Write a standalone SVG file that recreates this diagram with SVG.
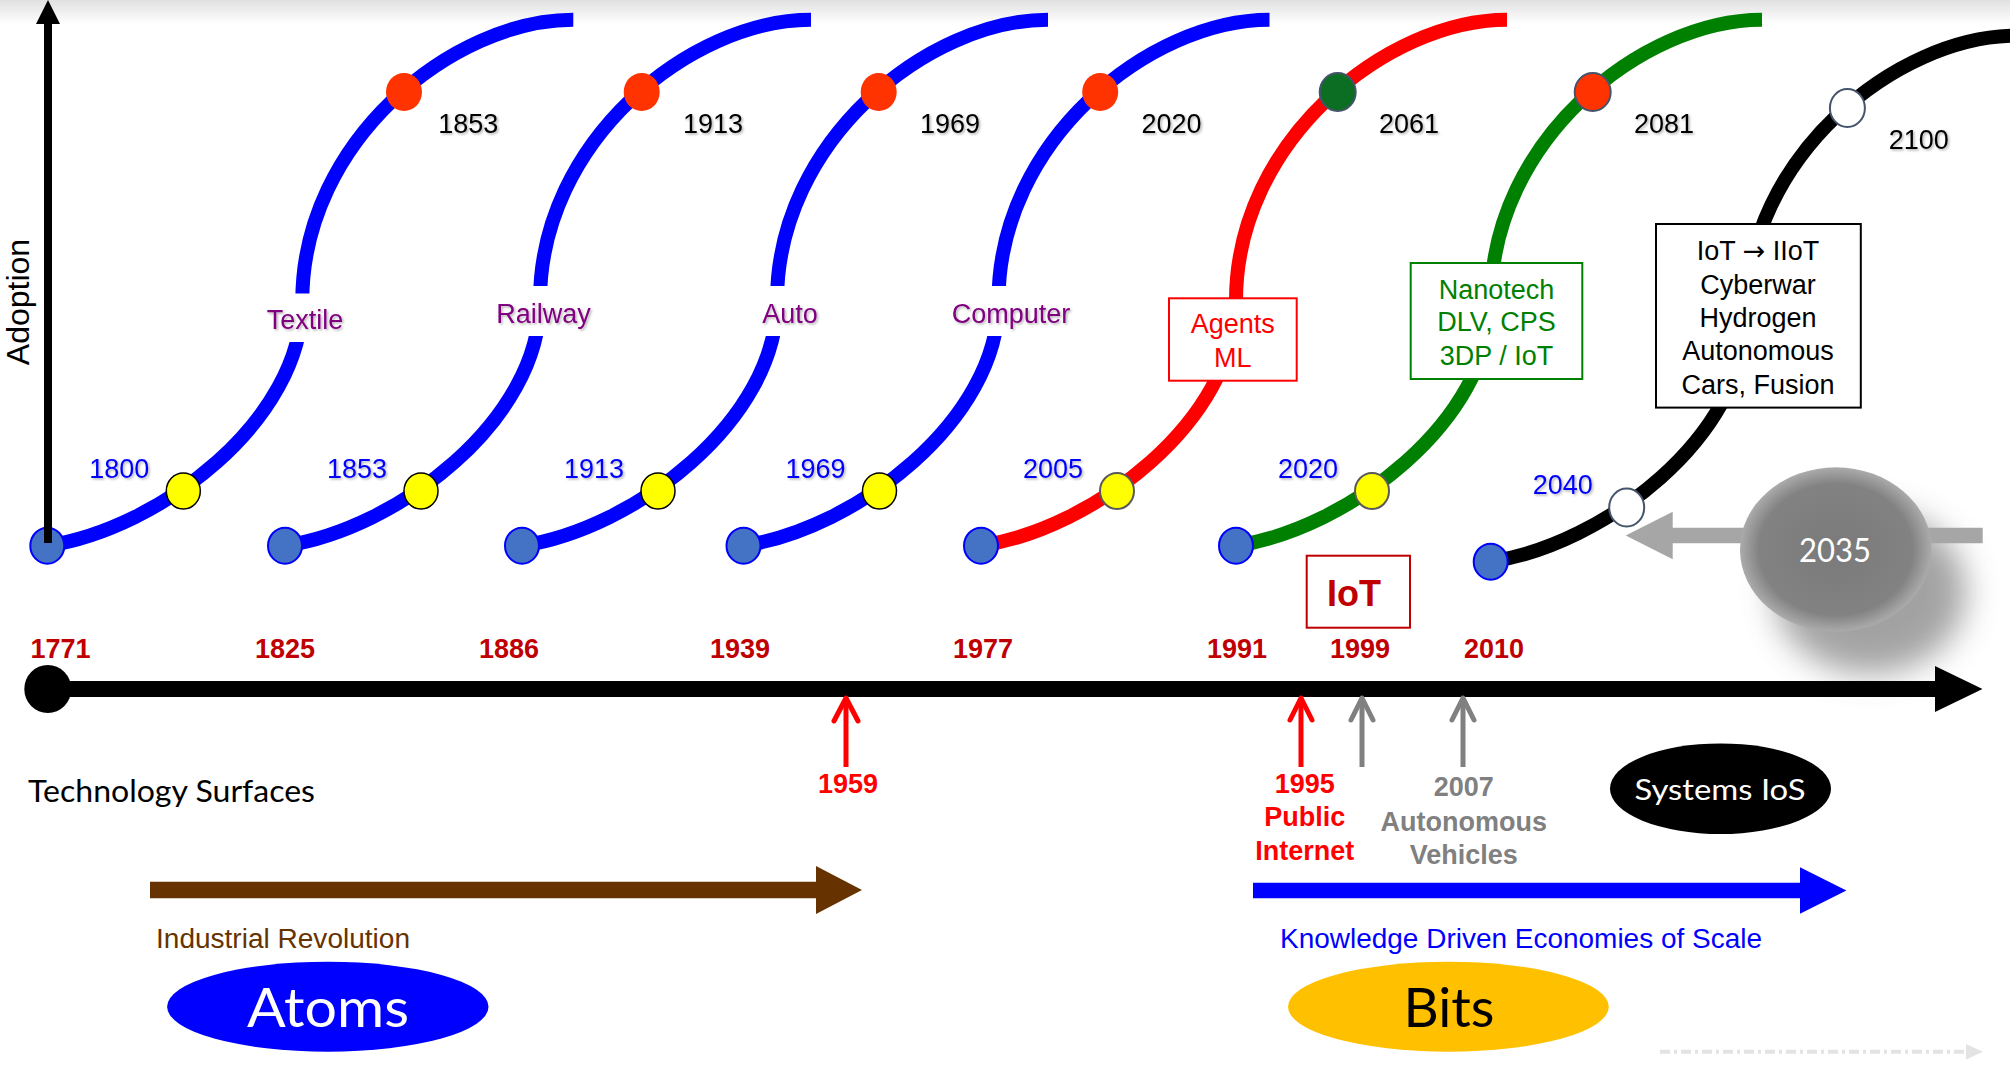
<svg xmlns="http://www.w3.org/2000/svg" width="2010" height="1067" viewBox="0 0 2010 1067">
<defs>
<style>
.a{font-family:"Liberation Sans",Arial,"DejaVu Sans",sans-serif;font-size:27px;text-anchor:middle}
.c{font-family:Lato,"Open Sans",sans-serif;text-anchor:middle}
.sh{filter:url(#ts)}
.blue{fill:#0000FF}
.blk{fill:#000}
.tech{fill:#800080}
.tl{font-weight:bold;fill:#C00000}
.db{fill:#4472C4;stroke:#0000FF;stroke-width:2}
.dy{fill:#FFFF00;stroke:#000;stroke-width:1.5}
.dyg{fill:#FFFF00;stroke:#595959;stroke-width:2}
.dr{fill:#FF3300}
.dw{fill:#fff;stroke:#44546A;stroke-width:2}
.gap{fill:#fff}
.box{fill:#fff;stroke-width:2}
.ar{fill:none;stroke-width:5;stroke-linecap:round;stroke-linejoin:round}
</style>
<linearGradient id="topShade" x1="0" y1="0" x2="0" y2="1"><stop offset="0" stop-color="#e0e0e0"/><stop offset="1" stop-color="#ffffff"/></linearGradient>
<path id="scurve" d="M0,0 C113,-17 255,-125 255,-245 C255,-405 406,-526 526,-526" fill="none" stroke-width="14"/>
<filter id="ts" x="-10%" y="-20%" width="130%" height="150%"><feDropShadow dx="1.5" dy="1.5" stdDeviation="1" flood-color="#000" flood-opacity="0.3"/></filter>
<radialGradient id="g2035" cx="0.5" cy="0.5" r="0.5"><stop offset="0" stop-color="#7a7a7a"/><stop offset="0.8" stop-color="#828282"/><stop offset="1" stop-color="#ababab"/></radialGradient>
<filter id="blur" x="-50%" y="-50%" width="200%" height="200%"><feGaussianBlur stdDeviation="16"/></filter>
</defs>
<rect x="0" y="0" width="2010" height="1067" fill="#fff"/>
<rect x="0" y="0" width="2010" height="24" fill="url(#topShade)"/>

<g id="wave-textile">
<use href="#scurve" transform="translate(47.3,545.7)" stroke="#0000FF"/>
<rect class="gap" x="262" y="293.5" width="88" height="48.5"/>
<text class="a tech sh" x="305" y="329">Textile</text>
<ellipse class="db" cx="47.3" cy="545.7" rx="17" ry="18"/>
<ellipse class="dy" cx="183.3" cy="491" rx="17" ry="18"/>
<ellipse class="dr" cx="404" cy="92" rx="18" ry="19"/>
<text class="a blue sh" x="119.3" y="478.3">1800</text>
<text class="a blk sh" x="468.3" y="133.3">1853</text>
</g>

<g id="wave-railway">
<use href="#scurve" transform="translate(285,545.7)" stroke="#0000FF"/>
<rect class="gap" x="494" y="286" width="99" height="50"/>
<text class="a tech sh" x="543.5" y="323">Railway</text>
<ellipse class="db" cx="285" cy="545.7" rx="17" ry="18"/>
<ellipse class="dy" cx="421" cy="491" rx="17" ry="18"/>
<ellipse class="dr" cx="641.7" cy="92" rx="18" ry="19"/>
<text class="a blue sh" x="357" y="478.3">1853</text>
<text class="a blk sh" x="713" y="133.3">1913</text>
</g>

<g id="wave-auto">
<use href="#scurve" transform="translate(522,545.7)" stroke="#0000FF"/>
<rect class="gap" x="755" y="286" width="67" height="50"/>
<text class="a tech sh" x="790" y="323">Auto</text>
<ellipse class="db" cx="522" cy="545.7" rx="17" ry="18"/>
<ellipse class="dy" cx="658" cy="491" rx="17" ry="18"/>
<ellipse class="dr" cx="878.7" cy="92" rx="18" ry="19"/>
<text class="a blue sh" x="594" y="478.3">1913</text>
<text class="a blk sh" x="950" y="133.3">1969</text>
</g>

<g id="wave-computer">
<use href="#scurve" transform="translate(743.5,545.7)" stroke="#0000FF"/>
<rect class="gap" x="950" y="286" width="122" height="50"/>
<text class="a tech sh" x="1011" y="323">Computer</text>
<ellipse class="db" cx="743.5" cy="545.7" rx="17" ry="18"/>
<ellipse class="dy" cx="879.5" cy="491" rx="17" ry="18"/>
<ellipse class="dr" cx="1100.2" cy="92" rx="18" ry="19"/>
<text class="a blue sh" x="815.5" y="478.3">1969</text>
<text class="a blk sh" x="1171.5" y="133.3">2020</text>
</g>

<g id="wave-agents">
<use href="#scurve" transform="translate(981,545.7)" stroke="#FF0000"/>
<rect class="box" x="1169" y="298.3" width="127.7" height="82.4" stroke="#FF0000"/>
<text class="a" x="1232.7" y="333.3" fill="#FF0000">Agents</text>
<text class="a" x="1232.7" y="366.7" fill="#FF0000">ML</text>
<ellipse class="db" cx="981" cy="545.7" rx="17" ry="18"/>
<ellipse class="dyg" cx="1117" cy="491" rx="17" ry="18"/>
<ellipse cx="1337.7" cy="92" rx="18" ry="19" fill="#0B6E23" stroke="#44546A" stroke-width="2"/>
<text class="a blue sh" x="1053" y="478.3">2005</text>
<text class="a blk sh" x="1409" y="133.3">2061</text>
</g>

<g id="wave-nanotech">
<use href="#scurve" transform="translate(1236,545.7)" stroke="#008000"/>
<rect class="box" x="1410.7" y="263" width="171.6" height="116" stroke="#008000"/>
<text class="a" x="1496.5" y="298.8" fill="#008000">Nanotech</text>
<text class="a" x="1496.5" y="331.3" fill="#008000">DLV, CPS</text>
<text class="a" x="1496.5" y="364.5" fill="#008000">3DP / IoT</text>
<ellipse class="db" cx="1236" cy="545.7" rx="17" ry="18"/>
<ellipse class="dyg" cx="1372" cy="491" rx="17" ry="18"/>
<ellipse cx="1592.7" cy="92" rx="18" ry="19" fill="#FF3300" stroke="#44546A" stroke-width="2"/>
<text class="a blue sh" x="1308" y="478.3">2020</text>
<text class="a blk sh" x="1664" y="133.3">2081</text>
</g>

<g id="wave-iiot">
<use href="#scurve" transform="translate(1490.7,561.7)" stroke="#000000"/>
<rect class="box" x="1656" y="224" width="204.8" height="183.6" stroke="#000"/>
<text class="a" x="1758" y="260.4">IoT <tspan style="font-family:'DejaVu Sans',sans-serif">→</tspan> IIoT</text>
<text class="a" x="1758" y="293.6">Cyberwar</text>
<text class="a" x="1758" y="327">Hydrogen</text>
<text class="a" x="1758" y="360.4">Autonomous</text>
<text class="a" x="1758" y="393.8">Cars, Fusion</text>
<ellipse class="db" cx="1490.7" cy="561.7" rx="17" ry="18"/>
<ellipse class="dw" cx="1626.7" cy="507.5" rx="17.5" ry="19"/>
<ellipse class="dw" cx="1847.4" cy="108" rx="17.5" ry="19"/>
<text class="a blue sh" x="1562.7" y="494.3">2040</text>
<text class="a blk sh" x="1918.7" y="149.3">2100</text>
</g>

<g id="adoption-axis">
<line x1="48" y1="543" x2="48" y2="20" stroke="#000" stroke-width="8"/>
<polygon points="36,24 48,0 60,24" fill="#000"/>
<text class="a" transform="translate(29,302) rotate(-90)" style="font-size:32px">Adoption</text>
</g>

<g id="node-2035">
<ellipse cx="1870" cy="592" rx="96" ry="82" fill="#8c8c8c" opacity="0.8" filter="url(#blur)"/>
<polygon points="1982.7,527.7 1672.7,527.7 1672.7,511.7 1625.7,535.5 1672.7,559.3 1672.7,543.3 1982.7,543.3" fill="#A6A6A6"/>
<ellipse cx="1835.8" cy="549.5" rx="95.8" ry="82.2" fill="url(#g2035)"/>
<text class="c" x="1835" y="561.7" fill="#fff" style="font-size:32px" textLength="72" lengthAdjust="spacingAndGlyphs">2035</text>
</g>

<g id="timeline">
<line x1="47" y1="689" x2="1937" y2="689" stroke="#000" stroke-width="16"/>
<polygon points="1935,666 1982.5,689 1935,712" fill="#000"/>
<ellipse cx="47.8" cy="689" rx="23.5" ry="24" fill="#000"/>
<text class="a tl" x="60.6" y="658.3">1771</text>
<text class="a tl" x="285" y="658.3">1825</text>
<text class="a tl" x="509" y="658.3">1886</text>
<text class="a tl" x="740" y="658.3">1939</text>
<text class="a tl" x="983" y="658.3">1977</text>
<text class="a tl" x="1237" y="658.3">1991</text>
<text class="a tl" x="1360" y="658.3">1999</text>
<text class="a tl" x="1494" y="658.3">2010</text>
</g>

<g id="iot-box">
<rect x="1306.7" y="555.7" width="103.3" height="72" fill="#fff" stroke="#C00000" stroke-width="2"/>
<text class="a" x="1354" y="605.7" fill="#C00000" style="font-size:36px;font-weight:bold">IoT</text>
</g>

<g id="connectors">
<line x1="846" y1="700" x2="846" y2="767" stroke="#FF0000" stroke-width="5"/>
<polyline class="ar" points="834,721 846,698 858,721" stroke="#FF0000"/>
<line x1="1301" y1="700" x2="1301" y2="767" stroke="#FF0000" stroke-width="5"/>
<polyline class="ar" points="1290,720 1301,698 1312,720" stroke="#FF0000"/>
<line x1="1362" y1="700" x2="1362" y2="767" stroke="#808080" stroke-width="5"/>
<polyline class="ar" points="1351,720 1362,698 1373,720" stroke="#808080"/>
<line x1="1463" y1="700" x2="1463" y2="767" stroke="#808080" stroke-width="5"/>
<polyline class="ar" points="1452,720 1463,698 1474,720" stroke="#808080"/>
<polygon points="150,881.7 816,881.7 816,866 862,890 816,914 816,898.3 150,898.3" fill="#663300"/>
<polygon points="1253,882.7 1800,882.7 1800,867.3 1846.4,890.5 1800,913.7 1800,898.3 1253,898.3" fill="#0000FF"/>
<line x1="1660" y1="1051.7" x2="1966" y2="1051.7" stroke="#E3E3E3" stroke-width="4" stroke-dasharray="10 4 3 4"/>
<polygon points="1966,1044 1983,1051.7 1966,1059.4" fill="#E3E3E3"/>
</g>

<g id="event-labels">
<text class="a" x="848" y="792.7" fill="#FF0000" font-weight="bold">1959</text>
<text class="a" x="1304.7" y="792.7" fill="#FF0000" font-weight="bold">1995</text>
<text class="a" x="1304.7" y="826" fill="#FF0000" font-weight="bold">Public</text>
<text class="a" x="1304.7" y="860" fill="#FF0000" font-weight="bold">Internet</text>
<text class="a" x="1463.8" y="796" fill="#808080" font-weight="bold">2007</text>
<text class="a" x="1463.8" y="830.5" fill="#808080" font-weight="bold">Autonomous</text>
<text class="a" x="1463.8" y="864" fill="#808080" font-weight="bold">Vehicles</text>
<text class="c" x="171.5" y="802" style="font-size:30px" fill="#000" textLength="287" lengthAdjust="spacingAndGlyphs">Technology Surfaces</text>
</g>

<g id="node-systems-ios">
<ellipse cx="1720.5" cy="788.7" rx="110.5" ry="45.3" fill="#000"/>
<text class="c" x="1720" y="800" fill="#fff" style="font-size:29px" textLength="171" lengthAdjust="spacingAndGlyphs">Systems IoS</text>
</g>

<g id="node-industrial">
<text class="a" x="283" y="948.3" fill="#663300" textLength="254" lengthAdjust="spacingAndGlyphs">Industrial Revolution</text>
</g>

<g id="node-knowledge">
<text class="a" x="1521" y="948.3" fill="#0000FF" textLength="482" lengthAdjust="spacingAndGlyphs">Knowledge Driven Economies of Scale</text>
</g>

<g id="node-atoms">
<ellipse cx="327.8" cy="1006.7" rx="160.7" ry="45" fill="#0000FF"/>
<text class="c" x="328" y="1027.3" fill="#fff" style="font-size:54px" textLength="162" lengthAdjust="spacingAndGlyphs">Atoms</text>
</g>

<g id="node-bits">
<ellipse cx="1448.4" cy="1006.7" rx="160.4" ry="45" fill="#FFC000"/>
<text class="c" x="1449" y="1027.3" fill="#000" style="font-size:54px" textLength="91" lengthAdjust="spacingAndGlyphs">Bits</text>
</g>
</svg>
